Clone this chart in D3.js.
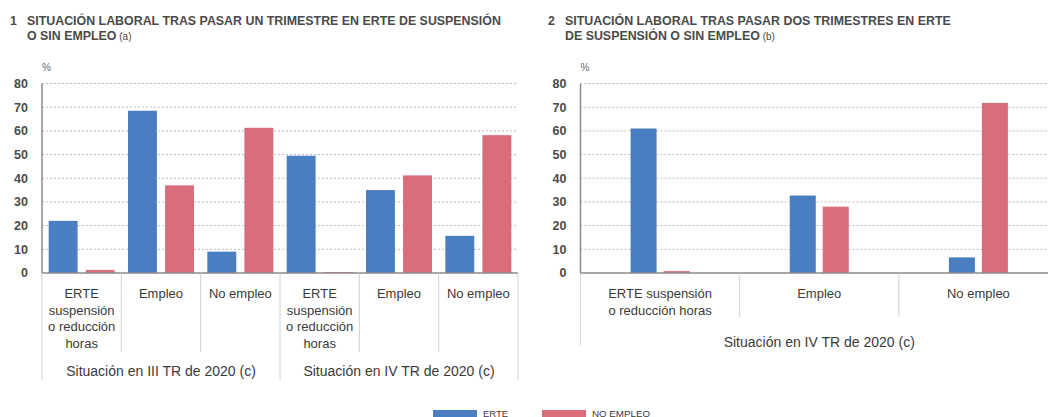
<!DOCTYPE html>
<html>
<head>
<meta charset="utf-8">
<script src="https://cdn.jsdelivr.net/npm/d3@7"></script>
<style>
  body { margin: 0; background: #fff; }
  svg { display: block; font-family: "Liberation Sans", Arial, sans-serif; }
</style>
</head>
<body>
<svg id="chart"></svg>
<script>
// data
var series = ["ERTE", "NO EMPLEO"];
var colors = ["#4a7ec0", "#da6d7c"];
var yTicks = [0, 10, 20, 30, 40, 50, 60, 70, 80];

var leftCats = ["ERTE III", "Empleo III", "No empleo III", "ERTE IV", "Empleo IV", "No empleo IV"];
var leftLabels = [["ERTE", "suspensión", "o reducción", "horas"], ["Empleo"], ["No empleo"],
                  ["ERTE", "suspensión", "o reducción", "horas"], ["Empleo"], ["No empleo"]];
var leftGroups = ["Situación en III TR de 2020 (c)", "Situación en IV TR de 2020 (c)"];
var leftErte = [22, 68.5, 9, 49.5, 35, 15.7];
var leftNoEmpleo = [1.3, 37, 61.3, 0.4, 41.2, 58.2];

var rightCats = ["ERTE", "Empleo", "No empleo"];
var rightLabels = [["ERTE suspensión", "o reducción horas"], ["Empleo"], ["No empleo"]];
var rightGroup = "Situación en IV TR de 2020 (c)";
var rightErte = [61, 32.7, 6.6];
var rightNoEmpleo = [0.8, 28, 71.8];

const W = 1048, H = 417;
const textCol = "#3a3a3a";

var svg = d3.select("#chart").attr("width", W).attr("height", H);

var y = d3.scaleLinear().domain([0, 80]).range([273, 83.5]);

function title(x, num, lines, note) {
  var t = svg.append("g").attr("fill", "#4a4a4a").attr("font-size", "12.4px")
    .attr("font-weight", "bold");
  t.append("text").attr("x", x).attr("y", 25).text(num);
  lines.forEach(function(l, i) {
    var tx = t.append("text").attr("x", x + 17).attr("y", 25 + 15 * i).text(l);
    if (i === lines.length - 1) {
      tx.append("tspan").attr("font-size", "10px").attr("font-weight", "normal").text(" " + note);
    }
  });
}

function panel(opt) {
  var g = svg.append("g");
  var x0 = d3.scaleBand().domain(opt.cats).range([opt.left, opt.right]);
  var bw = x0.bandwidth();
  var x1 = d3.scaleBand().domain(series)
    .range([bw / 2 - opt.half, bw / 2 + opt.half]).paddingInner(opt.pad);

  // grid
  g.append("g").selectAll("line").data(yTicks.slice(1)).join("line")
    .attr("x1", opt.left).attr("x2", opt.right)
    .attr("y1", function(d) { return y(d); }).attr("y2", function(d) { return y(d); })
    .attr("stroke", "#bdbdbd").attr("stroke-width", 1).attr("stroke-dasharray", "2,2");

  // y labels
  g.append("g").selectAll("text").data(yTicks).join("text")
    .attr("x", opt.left - 14).attr("y", function(d) { return y(d); })
    .attr("dy", "0.35em").attr("text-anchor", "end")
    .attr("font-size", "12.5px").attr("font-weight", "bold").attr("fill", "#4a4a4a")
    .text(function(d) { return d; });
  g.append("text").attr("x", opt.left).attr("y", 71).attr("font-size", "10px")
    .attr("fill", "#666").text("%");

  // bars
  var vals = [opt.erte, opt.no];
  series.forEach(function(s, si) {
    g.append("g").attr("fill", colors[si]).selectAll("rect").data(opt.cats).join("rect")
      .attr("x", function(d) { return x0(d) + x1(s); })
      .attr("width", x1.bandwidth())
      .attr("y", function(d, i) { return y(vals[si][i]); })
      .attr("height", function(d, i) { return y(0) - y(vals[si][i]); });
  });

  // axes
  g.append("line").attr("x1", opt.left).attr("x2", opt.left)
    .attr("y1", y(80)).attr("y2", y(0)).attr("stroke", "#8a8a8a").attr("stroke-width", 1.5);
  g.append("line").attr("x1", opt.left).attr("x2", opt.right)
    .attr("y1", y(0)).attr("y2", y(0)).attr("stroke", "#8a8a8a").attr("stroke-width", 1.5);

  // category separators
  var seps = opt.cats.map(function(d) { return x0(d); }).concat([opt.right]);
  g.append("g").selectAll("line").data(seps).join("line")
    .attr("x1", function(d) { return d; }).attr("x2", function(d) { return d; })
    .attr("y1", y(0)).attr("y2", function(d, i) {
      return opt.groupEdges.indexOf(i) >= 0 ? opt.groupBottom : opt.catBottom;
    })
    .attr("stroke", "#d0d0d0").attr("stroke-width", 1);

  // category labels
  opt.cats.forEach(function(c, i) {
    var t = g.append("text").attr("text-anchor", "middle").attr("font-size", "13px")
      .attr("fill", textCol);
    opt.labels[i].forEach(function(l, li) {
      t.append("tspan").attr("x", x0(c) + bw / 2).attr("y", 298 + 16.5 * li).text(l);
    });
  });

  // group labels
  opt.groups.forEach(function(gr) {
    var gx = opt.cats[gr.from], gy = opt.cats[gr.to];
    g.append("text").attr("text-anchor", "middle").attr("font-size", "14px")
      .attr("fill", textCol)
      .attr("x", (x0(gx) + x0(gy) + bw) / 2).attr("y", opt.groupY)
      .text(gr.label);
  });
}

title(10, "1", ["SITUACIÓN LABORAL TRAS PASAR UN TRIMESTRE EN ERTE DE SUSPENSIÓN", "O SIN EMPLEO"], "(a)");
title(548, "2", ["SITUACIÓN LABORAL TRAS PASAR DOS TRIMESTRES EN ERTE", "DE SUSPENSIÓN O SIN EMPLEO"], "(b)");

panel({
  cats: leftCats, labels: leftLabels, erte: leftErte, no: leftNoEmpleo,
  left: 42, right: 518, half: 33, pad: 0.22,
  groupEdges: [0, 3, 6], catBottom: 352, groupBottom: 380, groupY: 376,
  groups: [{from: 0, to: 2, label: leftGroups[0]}, {from: 3, to: 5, label: leftGroups[1]}]
});

panel({
  cats: rightCats, labels: rightLabels, erte: rightErte, no: rightNoEmpleo,
  left: 580.5, right: 1058, half: 29.5, pad: 0.212,
  groupEdges: [0, 3], catBottom: 317, groupBottom: 345, groupY: 347,
  groups: [{from: 0, to: 2, label: rightGroup}]
});

// legend
var leg = svg.append("g");
var legX = [433, 542];
series.forEach(function(s, i) {
  leg.append("rect").attr("x", legX[i]).attr("y", 410).attr("width", 44).attr("height", 10)
    .attr("fill", colors[i]);
  leg.append("text").attr("x", legX[i] + 50).attr("y", 416.5).attr("font-size", "9.5px")
    .attr("fill", textCol).attr("lengthAdjust", "spacingAndGlyphs")
    .attr("textLength", i === 0 ? 25 : 58).text(s);
});
</script>
</body>
</html>
